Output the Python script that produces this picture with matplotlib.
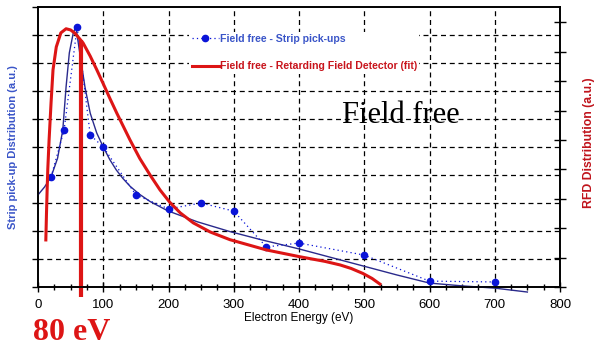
import numpy as np
import matplotlib
matplotlib.use('Agg')
import matplotlib.pyplot as plt

# strip pick-up measured points (left axis, a.u.)
strip_e = [20, 40, 60, 80, 100, 150, 200, 250, 300, 350, 400, 500, 600, 700]
strip_v = [3.93, 5.61, 9.29, 5.43, 5.0, 3.29, 2.79, 3.0, 2.71, 1.43, 1.57, 1.14, 0.21, 0.18]

# smooth trend through the strip pick-ups
trend_e = [0, 10, 20, 30, 38, 43, 48, 54, 58, 64, 72, 80, 90, 100, 110, 120, 130, 141, 155, 172, 199,
           244, 294, 340, 400, 450, 500, 550, 600, 650, 700, 750]
trend_v = [3.29, 3.57, 3.93, 4.6, 5.61, 7.14, 8.36, 9.07, 9.3, 8.36, 7.14, 6.21, 5.5, 5.0, 4.55, 4.18, 3.88, 3.6,
           3.32, 3.05, 2.72, 2.33, 1.98, 1.70, 1.36, 1.05, 0.74, 0.43, 0.14, 0.04, -0.04, -0.18]

# retarding field detector fit (right axis, a.u.)
rfd_e = [12, 13, 14, 15, 16, 17, 20, 23, 28, 35, 43, 50, 57, 69, 80, 90, 100, 110, 121, 133,
         141, 156, 172, 187, 202, 218, 238, 264, 294, 350, 401, 440, 463, 480, 498, 512, 524]
rfd_v = [1.60, 2.5, 3.3, 4.0, 4.5, 5.0, 6.26, 7.38, 8.16, 8.64, 8.78, 8.74, 8.62, 8.30, 7.85, 7.39, 6.91, 6.42, 5.90, 5.36,
         5.0, 4.37, 3.80, 3.30, 2.88, 2.52, 2.18, 1.87, 1.61, 1.26, 1.03, 0.87, 0.75, 0.63, 0.46, 0.29, 0.10]

peak_e = 66        # marked energy
peak_v = 8.4

blue = '#0a14d8'
navy = '#2a2a8c'
red = '#dd1515'

plt.rcParams['font.family'] = ['Liberation Sans', 'DejaVu Sans']

fig = plt.figure(figsize=(5.96, 3.47), dpi=100)
ax = fig.add_axes([38/596, 1-287/347, 522/596, 280/347])
ax2 = ax.twinx()

ax.set_xlim(0, 800)
ax.set_ylim(0, 10)
ax2.set_ylim(0, 9.52)

# grid
ax.set_xticks(np.arange(0, 801, 100))
ax.set_xticks(np.arange(0, 801, 25), minor=True)
ax.set_yticks(np.arange(0, 11, 1))
ax.set_yticklabels([])
ax2.set_yticks(np.arange(0, 10, 1))
ax2.set_yticklabels([])
for xv in range(100, 800, 100):
    ax.axvline(xv, color='k', lw=0.9, ls=(0, (4, 3)), zorder=0)
for yv in range(1, 10):
    ax.axhline(yv, color='k', lw=0.9, ls=(0, (4, 3)), zorder=0)

ax.plot(trend_e, trend_v, color=navy, lw=1.0, clip_on=False, zorder=3)
l1, = ax.plot(strip_e, strip_v, color=blue, ls=(0, (1, 2.5)), lw=0.9, marker='o',
              markersize=4.5, label='Field free - Strip pick-ups', zorder=4)
l2, = ax2.plot(rfd_e, rfd_v, color=red, lw=2.2, label='Field free - Retarding Field Detector (fit)')
ax2.plot([peak_e, peak_e], [-0.34, peak_v], color=red, lw=3.0, clip_on=False, solid_capstyle='butt')

ax.tick_params(axis='x', which='major', direction='inout', length=7, width=1, labelsize=9.5, pad=5)
ax.tick_params(axis='x', which='minor', direction='inout', length=5, width=1)
ax.tick_params(axis='y', direction='out', length=4, width=1)
ax2.tick_params(axis='y', direction='inout', length=8, width=1)
for sp in ax.spines.values():
    sp.set_linewidth(1.2)
for sp in ax2.spines.values():
    sp.set_linewidth(1.2)

ax.set_xlabel('Electron Energy (eV)', fontsize=8.5, labelpad=1)

leg = ax2.legend(handles=[l1, l2], loc='upper left', bbox_to_anchor=(0.28, 0.93),
                 frameon=True, facecolor='white', edgecolor='none', framealpha=1,
                 handlelength=2.6, handletextpad=0.1, labelspacing=1.65,
                 borderpad=0.2, prop={'weight': 'bold', 'size': 7.6})
leg.get_texts()[0].set_color('#3a55c8')
leg.get_texts()[1].set_color('#c8141c')

ax.text(0.695, 0.614, 'Field free', transform=ax.transAxes, ha='center', va='center',
        fontsize=22, family='Liberation Serif', color='k')

fig.text(13/596, 1-147/347, 'Strip pick-up Distribution (a.u.)', rotation=90, ha='center',
         va='center', fontsize=8, fontweight='bold', color='#3a55c8')
fig.text(589/596, 1-143/347, 'RFD Distribution (a.u.)', rotation=90, ha='center',
         va='center', fontsize=8.8, fontweight='bold', color='#c0141c')
fig.text(33/596, 1-340/347, '80 eV', ha='left', va='baseline', fontsize=23,
         family='Liberation Serif', fontweight='bold', color=red)

fig.savefig('out.png', dpi=100)
